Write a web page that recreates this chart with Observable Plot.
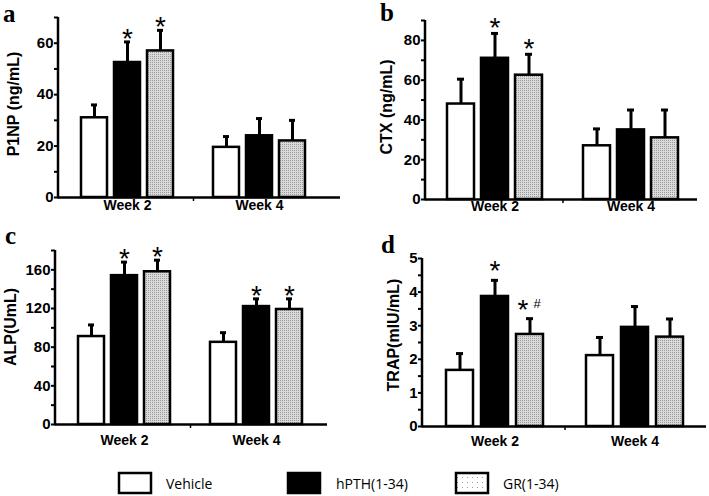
<!DOCTYPE html>
<html>
<head>
<meta charset="utf-8">
<script src="https://cdn.jsdelivr.net/npm/d3@7"></script>
<script src="https://cdn.jsdelivr.net/npm/@observablehq/plot@0.6"></script>
<style>
html, body { margin: 0; padding: 0; background: #fff; }
#page { position: relative; width: 709px; height: 496px; overflow: hidden; background: #fff; }
.panel { position: absolute; }
.panel svg { font-family: Arial, "Liberation Sans", sans-serif !important; font-weight: bold; background: transparent !important; }
#overlay { position: absolute; left: 0; top: 0; }
</style>
</head>
<body>
<svg width="0" height="0" style="position:absolute">
  <defs>
    <pattern id="stipple" width="2" height="2" patternUnits="userSpaceOnUse">
      <rect width="2" height="2" fill="#dadada"></rect>
      <rect width="1" height="1" fill="#9a9a9a"></rect>
    </pattern>
    <pattern id="stippleLegend" width="5" height="5" patternUnits="userSpaceOnUse">
      <rect width="5" height="5" fill="#ffffff"></rect>
      <rect x="2" y="2" width="1" height="1" fill="#999999"></rect>
    </pattern>
  </defs>
</svg>
<div id="page"></div>
<script>
// ---------- data ----------
const weeks = ["Week 2", "Week 4"];
const groups = ["Vehicle", "hPTH(1-34)", "GR(1-34)"];

// order: Week 2 (Vehicle, hPTH, GR), Week 4 (Vehicle, hPTH, GR)
const p1npMean = [31, 52.5, 57, 19.5, 24, 22];
const p1npSD   = [5, 8, 8, 4.2, 6.7, 8];
const p1npSig  = ["", "*", "*", "", "", ""];
const p1npTicks = [0, 20, 40, 60];

const ctxMean = [48, 71, 62.5, 27, 35, 31];
const ctxSD   = [12.5, 12.5, 10.5, 8.5, 10, 14];
const ctxSig  = ["", "*", "*", "", "", ""];
const ctxTicks = [0, 20, 40, 60, 80];

const alpMean = [91, 154, 158, 85, 122, 119];
const alpSD   = [12, 14, 12, 10, 8, 11];
const alpSig  = ["", "*", "*", "", "*", "*"];
const alpTicks = [0, 40, 80, 120, 160];

const trapMean = [1.67, 3.87, 2.74, 2.11, 2.95, 2.66];
const trapSD   = [0.5, 0.48, 0.47, 0.54, 0.62, 0.54];
const trapSig  = ["", "*", "* #", "", "", ""];
const trapTicks = [0, 1, 2, 3, 4, 5];

const panelLetters = ["a", "b", "c", "d"];
const yLabels = ["P1NP (ng/mL)", "CTX (ng/mL)", "ALP(UmL)", "TRAP(mIU/mL)"];

// ---------- layout ----------
const panels = [
  {letter: panelLetters[0], label: yLabels[0], mean: p1npMean, sd: p1npSD, sig: p1npSig, ticks: p1npTicks, minor: 10, ymax: 70,
   left: 0, top: 0, width: 354, height: 225, mL: 58, mR: 14, mT: 17, mB: 28, xr: [78, 308],
   labX: 13, labY: 104, starDy: -3, weekDy: 12, letterX: 3, letterY: 22},
  {letter: panelLetters[1], label: yLabels[1], mean: ctxMean, sd: ctxSD, sig: ctxSig, ticks: ctxTicks, minor: 10, ymax: 90,
   left: 354, top: 0, width: 355, height: 225, mL: 71, mR: 12, mT: 20, mB: 26, xr: [92, 325],
   labX: 386, labY: 107, starDy: -5, weekDy: 11, letterX: 380, letterY: 21},
  {letter: panelLetters[2], label: yLabels[2], mean: alpMean, sd: alpSD, sig: alpSig, ticks: alpTicks, minor: 20, ymax: 180,
   left: 0, top: 220, width: 354, height: 240, mL: 55, mR: 27, mT: 30, mB: 36, xr: [75, 305],
   labX: 10, labY: 327, starDy: -3, weekDy: 20, letterX: 5, letterY: 244},
  {letter: panelLetters[3], label: yLabels[3], mean: trapMean, sd: trapSD, sig: trapSig, ticks: trapTicks, minor: 0.5, ymax: 5,
   left: 354, top: 220, width: 355, height: 240, mL: 68, mR: 3, mT: 38, mB: 34, xr: [90, 332],
   labX: 393, labY: 335, starDy: -9, weekDy: 19, letterX: 381, letterY: 253}
];

const keyOf = (w, g) => w + "|" + g;
const xDomain = [...groups.map(g => keyOf(weeks[0], g)), "gap", ...groups.map(g => keyOf(weeks[1], g))];
const fmt = d3.format("~g");

const page = document.getElementById("page");

function yAxisLine(ymax) {
  return (index, scales, values, dims) => {
    const g = d3.create("svg:g");
    g.append("line")
      .attr("x1", dims.marginLeft).attr("x2", dims.marginLeft)
      .attr("y1", scales.y(0) + 1.25).attr("y2", scales.y(ymax))
      .attr("stroke", "#000").attr("stroke-width", 2.5);
    return g.node();
  };
}

for (const p of panels) {
  const data = weeks.flatMap((w, i) => groups.map((g, j) => ({
    week: w, group: g, key: keyOf(w, g),
    mean: p.mean[i * 3 + j], sd: p.sd[i * 3 + j], sig: p.sig[i * 3 + j]
  })));
  const top = d => d.mean + d.sd;
  const minorTicks = d3.range(0, p.ymax + p.minor / 2, p.minor);
  const plot = Plot.plot({
    width: p.width, height: p.height,
    marginLeft: p.mL, marginRight: p.mR, marginTop: p.mT, marginBottom: p.mB,
    style: {background: "transparent", color: "#000", overflow: "visible"},
    x: {type: "band", domain: xDomain, range: p.xr, paddingInner: 0.22, paddingOuter: 0, axis: null},
    y: {domain: [0, p.ymax], label: null},
    color: {type: "ordinal", domain: groups, range: ["#ffffff", "#000000", "url(#stipple)"]},
    marks: [
      Plot.barY(data, {x: "key", y: "mean", fill: "group", stroke: "#000", strokeWidth: 2.5}),
      Plot.ruleX(data, {x: "key", y1: "mean", y2: top, stroke: "#000", strokeWidth: 3}),
      Plot.tickY(data, {x: "key", y: top, stroke: "#000", strokeWidth: 3, insetLeft: 10, insetRight: 10}),
      Plot.ruleY([0], {stroke: "#000", strokeWidth: 2.5}),
      Plot.ruleX(["gap"], {x: d => d, y1: 0, y2: 0, insetBottom: -4, stroke: "#000", strokeWidth: 1.5}),
      yAxisLine(p.ymax),
      Plot.axisY({ticks: minorTicks, tickFormat: () => "", tickSize: 4, strokeWidth: 2, label: null}),
      Plot.axisY({ticks: p.ticks, tickFormat: fmt, tickSize: 0, tickPadding: 5, fontSize: 15, fontWeight: "bold", label: null}),
      Plot.text(weeks, {x: w => keyOf(w, groups[1]), frameAnchor: "bottom", dy: p.weekDy, fontSize: 14, fontWeight: "bold"}),
      Plot.text(data.filter(d => d.sig === "*"), {x: "key", y: top, text: () => "*", dy: p.starDy, fontSize: 28, fontWeight: "normal"}),
      Plot.text(data.filter(d => d.sig.includes("#")), {x: "key", y: top, text: () => "*", dx: -7, dy: p.starDy, fontSize: 28, fontWeight: "normal"}),
      Plot.text(data.filter(d => d.sig.includes("#")), {x: "key", y: top, text: () => "#", dx: 7, dy: p.starDy - 6, fontSize: 13, fontWeight: "normal"})
    ]
  });
  const div = document.createElement("div");
  div.className = "panel";
  div.style.left = p.left + "px";
  div.style.top = p.top + "px";
  div.style.width = p.width + "px";
  div.style.height = p.height + "px";
  div.appendChild(plot);
  page.appendChild(div);
}

// overlay: panel letters, y-axis titles and legend
const overlay = d3.select(page).append("svg").attr("id", "overlay").attr("width", 709).attr("height", 496);
overlay.selectAll("text.letter").data(panels).join("text")
  .attr("class", "letter")
  .attr("x", p => p.letterX).attr("y", p => p.letterY)
  .attr("font-family", "'Liberation Serif', 'Times New Roman', serif")
  .attr("font-weight", "bold").attr("font-size", 25)
  .text(p => p.letter);

overlay.selectAll("text.ylab").data(panels).join("text")
  .attr("class", "ylab")
  .attr("transform", p => `translate(${p.labX},${p.labY}) rotate(-90)`)
  .attr("text-anchor", "middle").attr("dominant-baseline", "central")
  .attr("font-family", "Arial, 'Liberation Sans', sans-serif")
  .attr("font-weight", "bold").attr("font-size", 16)
  .text(p => p.label);

const legendFills = ["#ffffff", "#000000", "url(#stippleLegend)"];
const legendBoxX = [119, 288, 456];
const legendTextX = [166, 336, 503];
const lg = overlay.append("g");
lg.selectAll("rect").data(groups).join("rect")
  .attr("x", (d, i) => legendBoxX[i]).attr("y", 473)
  .attr("width", 32).attr("height", 20)
  .attr("fill", (d, i) => legendFills[i]).attr("stroke", "#000").attr("stroke-width", 2.5);
lg.selectAll("text").data(groups).join("text")
  .attr("x", (d, i) => legendTextX[i]).attr("y", 489)
  .attr("font-family", "'Open Sans', 'Noto Sans', sans-serif").attr("font-size", 14)
  .text(d => d);
</script>
</body>
</html>
